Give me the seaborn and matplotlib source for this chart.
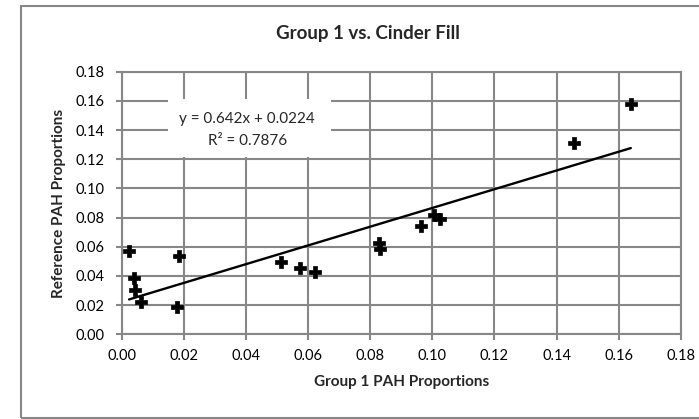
import numpy as np
import pandas as pd
import matplotlib
matplotlib.use("Agg")
import matplotlib.pyplot as plt
from matplotlib.patches import Rectangle
import seaborn as sns

sns.set_style("white")
plt.rcParams["font.family"] = ["Lato", "DejaVu Sans"]

# Data
group1 = [0.0024, 0.0041, 0.0042, 0.0062, 0.0186, 0.0179, 0.0514, 0.0574, 0.0623,
          0.0827, 0.0832, 0.0963, 0.1004, 0.1025, 0.1455, 0.1639]
reference = [0.0573, 0.0384, 0.0303, 0.0219, 0.0538, 0.0189, 0.0497, 0.0452, 0.0425,
             0.0623, 0.0584, 0.0744, 0.0817, 0.0790, 0.1308, 0.1577]
slope = 0.642
intercept = 0.0224
r_squared = 0.7876
ticks = [0.00, 0.02, 0.04, 0.06, 0.08, 0.10, 0.12, 0.14, 0.16, 0.18]

df = pd.DataFrame({"group1": group1, "reference": reference})
xfit = np.array([df["group1"].min(), df["group1"].max()])
fit = pd.DataFrame({"x": xfit, "y": slope * xfit + intercept})

grid_col = "#878787"

fig = plt.figure(figsize=(6.99, 4.19), dpi=100)
ax = fig.add_axes([0.174, 0.202, 0.800, 0.627])

sns.lineplot(data=fit, x="x", y="y", color="black", linewidth=1.7, ax=ax, zorder=3)
sns.scatterplot(data=df, x="group1", y="reference", marker="P", s=85, color="black",
                edgecolor="black", linewidth=0.5, ax=ax, zorder=4)

ax.set_xlim(0, 0.18)
ax.set_ylim(0, 0.18)
ax.set_xticks(ticks)
ax.set_yticks(ticks)
ax.set_xticklabels([f"{t:.2f}" for t in ticks])
ax.set_yticklabels([f"{t:.2f}" for t in ticks])
ax.grid(True, color=grid_col, linewidth=1.5)
ax.set_axisbelow(True)
for s in ax.spines.values():
    s.set_color(grid_col)
    s.set_linewidth(1.5)
ax.tick_params(axis="both", direction="out", length=4.5, width=1.5, color=grid_col,
               labelsize=10.5, labelcolor="black", bottom=True, left=True)
ax.tick_params(axis="y", pad=8)
ax.tick_params(axis="x", pad=6)

ax.set_xlabel("Group 1 PAH Proportions", fontsize=11, fontweight="bold", labelpad=9)
ax.set_ylabel("Reference PAH Proportions", fontsize=11, fontweight="bold", labelpad=7)

# trendline label with white background
ax.add_patch(Rectangle((0.083, 0.675), 0.291, 0.22, transform=ax.transAxes,
                       facecolor="white", edgecolor="none", zorder=2))
ax.text(0.0404, 0.1475, f"y = {slope}x + {intercept}", ha="center", va="center",
        fontsize=11, zorder=5)
ax.text(0.0404, 0.1324, f"R² = {r_squared}", ha="center", va="center",
        fontsize=11, zorder=5)

fig.text(367.5 / 699, 1 - 34 / 419, "Group 1 vs. Cinder Fill", ha="center",
         va="center", fontsize=13.5, fontweight="bold")

# outer chart border
fig.patches.append(Rectangle((21 / 699, 1 / 419), 1.1, 412 / 419, transform=fig.transFigure,
                             facecolor="none", edgecolor=grid_col, linewidth=1.5,
                             clip_on=False))

fig.savefig("out.png", dpi=100)
